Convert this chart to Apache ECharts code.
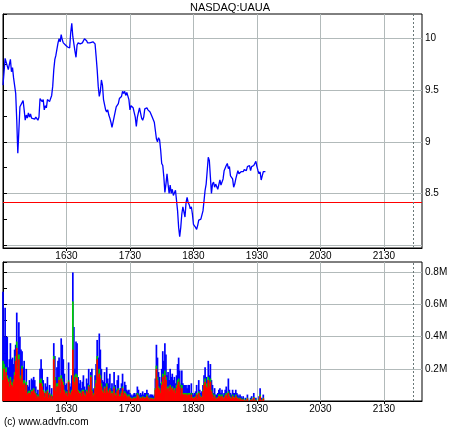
<!DOCTYPE html>
<html><head><meta charset="utf-8">
<script src="https://cdn.jsdelivr.net/npm/echarts@6/dist/echarts.min.js"></script>
<style>html,body{margin:0;padding:0;background:#fff}#c{width:460px;height:430px}</style>
</head><body><div id="c"></div>
<script>
// ---- data ----
const chartTitle = 'NASDAQ:UAUA';
const copyright = '(c) www.advfn.com';
// minutes since 15:30
const priceMinutes = [0,2,3,5,7,8,9,10,12,13,14,15,16,17,19,20,21,22,23,24,25,26,27,28,30,31,33,34,35,37,38,39,40,41,42,44,46,47,48,49,50,52,53,54,55,56,57,59,60,61,63,64,65,66,68,69,70,71,73,75,76,
77,79,80,82,83,85,87,88,89,90,91,92,93,94,95,97,98,99,100,101,102,103,104,105,107,109,110,112,113,114,115,116,117,119,120,121,123,124,125,126,127,129,131,132,133,134,136,137,139,141,142,143,145,146,147,148,149,150,151,152,153,154,155,156,157,
158,159,160,161,163,164,165,166,167,168,169,170,171,172,173,174,175,176,177,178,179,180,182,183,184,185,186,187,189,190,191,192,193,194,195,196,197,198,199,200,201,203,205,206,208,209,211,212,213,214,215,216,217,218,219,220,222,223,225,227,228,230,231,233,234,235,237,238,239,240,241,242,243,244,245,246,248];
const prices = [9.55,9.81,9.82,9.70,9.80,9.68,9.72,9.62,9.47,9.21,8.89,9.11,9.34,9.35,9.40,9.31,9.21,9.26,9.23,9.28,9.24,9.27,9.23,9.24,9.22,9.24,9.21,9.24,9.42,9.39,9.41,9.31,9.35,9.33,9.41,9.39,9.45,9.54,9.70,9.80,9.84,9.96,10.00,9.97,10.04,9.99,9.96,9.94,9.93,9.92,9.91,10.06,10.15,10.02,9.88,9.82,9.94,9.96,9.95,9.96,9.97,
10.00,9.98,9.96,9.96,9.95,9.97,9.95,9.83,9.70,9.54,9.44,9.49,9.60,9.55,9.41,9.31,9.29,9.31,9.26,9.23,9.19,9.14,9.15,9.24,9.34,9.37,9.42,9.44,9.49,9.47,9.49,9.45,9.48,9.41,9.31,9.35,9.33,9.32,9.24,9.15,9.24,9.33,9.23,9.21,9.24,9.32,9.33,9.31,9.29,9.24,9.23,9.19,9.03,9.00,9.04,9.02,8.92,8.79,8.77,8.66,8.51,8.59,8.69,8.59,8.50,
8.58,8.50,8.54,8.48,8.53,8.54,8.33,8.17,8.08,8.17,8.30,8.37,8.32,8.27,8.41,8.46,8.41,8.39,8.35,8.37,8.30,8.20,8.17,8.15,8.19,8.24,8.24,8.25,8.33,8.43,8.53,8.59,8.72,8.85,8.82,8.66,8.50,8.59,8.61,8.56,8.59,8.54,8.63,8.58,8.64,8.72,8.77,8.79,8.74,8.76,8.67,8.66,8.64,8.56,8.59,8.64,8.72,8.69,8.71,8.71,8.73,8.72,8.76,8.77,8.72,8.76,8.77,8.76,8.81,8.76,8.72,8.69,8.71,8.63,8.67,8.71,8.71];
const prevClose = 8.41;
const closeMarkerMinute = 388;
// volume per minute (thousands of shares), minute index from 15:30
const volTotal = [680,400,580,400,400,210,260,360,260,270,230,320,350,550,310,490,400,320,310,210,250,110,200,100,90,130,70,140,130,150,130,90,50,70,40,200,260,200,130,50,110,90,150,50,100,40,80,30,360,280,150,210,250,270,100,390,350,260,170,100,110,70,240,110,90,160,800,460,200,370,360,150,110,130,80,120,160,90,70,140,110,200,100,
180,200,70,80,160,230,380,270,420,320,200,130,120,180,110,210,140,110,170,80,110,70,180,100,70,130,160,70,80,110,170,70,120,100,70,60,70,50,40,30,40,50,40,50,90,70,40,50,40,60,40,50,50,70,50,30,40,40,40,30,40,140,350,270,180,150,110,200,310,250,360,290,160,180,130,200,150,170,130,
150,110,160,230,270,190,100,190,110,100,100,100,80,100,100,50,110,50,40,50,60,100,40,130,70,50,60,100,160,210,150,130,250,160,230,130,100,50,80,40,40,50,70,80,50,70,40,50,70,90,50,140,70,50,40,70,50,50,70,50,40,30,40,30,20,30,0,20,0,40,0,0,20,30,0,50,0,20,0,0,30,80,20,0,40];
const volRed = [130,200,150,180,140,120,90,130,100,90,120,160,250,330,200,260,140,120,200,100,110,60,100,40,50,50,40,60,60,70,50,40,20,30,20,110,110,90,60,25,50,40,60,20,40,15,30,10,260,130,60,90,90,130,50,140,120,100,60,40,50,30,120,50,40,60,320,120,100,150,140,60,50,50,30,60,60,40,30,60,50,90,50,
150,60,30,40,80,110,260,150,170,140,90,60,50,80,50,90,60,50,70,40,50,30,80,40,30,60,70,30,30,50,80,30,50,40,30,20,30,20,15,10,15,20,15,20,40,30,15,20,15,25,15,20,20,30,20,10,15,15,15,10,15,70,200,130,80,70,50,100,150,110,160,130,70,80,60,90,70,80,60,
70,50,80,100,120,90,40,80,40,40,40,40,30,40,40,20,40,20,15,20,25,40,15,50,30,20,25,60,100,120,90,80,130,90,120,60,40,20,30,15,15,20,30,30,20,30,15,20,30,40,20,50,30,20,15,30,20,20,30,20,15,10,15,10,5,10,0,5,0,15,0,0,5,10,0,20,0,5,0,0,10,30,5,0,15];
const volGreen = [120,30,50,30,20,20,20,20,20,20,15,20,30,40,20,30,20,30,20,20,20,10,20,10,10,15,10,10,10,10,10,10,5,10,5,20,30,20,10,5,10,10,10,5,10,5,10,5,20,20,10,20,20,20,10,20,20,20,10,10,10,10,10,10,10,10,300,40,20,20,20,10,10,10,10,10,10,10,10,10,10,10,10,
10,10,10,10,10,20,20,20,30,20,20,10,10,10,10,20,10,10,10,10,10,10,10,10,10,10,10,10,10,10,10,10,10,10,10,10,10,5,5,5,5,5,5,10,10,10,5,5,5,5,5,5,5,10,5,5,5,5,5,5,5,10,20,20,10,10,10,20,20,20,30,20,10,10,10,10,10,10,10,
10,10,20,30,20,20,10,20,10,10,10,10,10,10,10,5,10,5,5,5,5,10,5,10,10,5,5,10,10,20,20,10,20,20,20,10,10,5,10,5,5,5,10,10,5,10,5,5,10,10,5,10,10,5,5,10,5,5,10,5,5,5,5,5,5,5,0,5,0,5,0,0,5,5,0,5,0,5,0,0,5,10,5,0,5];
const xTickLabels = ['1630','1730','1830','1930','2030','2130'];
const priceTickLabels = ['8.5','9','9.5','10'];
const volTickLabels = ['0.2M','0.4M','0.6M','0.8M'];

// ---- chart ----
const FF = '"Liberation Sans", Arial, sans-serif';
const gridColor = '#b2baba';
const fmtX = v => (v > 0 && v % 60 === 0) ? (xTickLabels[v / 60 - 1] || '') : '';
function xAxis(gi) {
  return {
    type: 'value', gridIndex: gi, min: 0, max: 396, interval: 60,
    axisLine: {show: true, onZero: false, lineStyle: {color: '#000'}},
    axisTick: {show: true, length: 3, lineStyle: {color: '#000'}},
    axisLabel: {color: '#000', fontSize: 10, fontFamily: FF, margin: 3, showMinLabel: false, showMaxLabel: false, formatter: fmtX},
    splitLine: {show: true, showMinLine: false, showMaxLine: false, lineStyle: {color: gridColor, width: 1}}
  };
}
// stacked look: draw cumulative levels from the same base, top segment first
const cumGreen = volRed.map((r, i) => r + volGreen[i]);
function volBar(values, color, extra) {
  return Object.assign({type: 'bar', xAxisIndex: 1, yAxisIndex: 1, barWidth: 1.7, barGap: '-100%',
    itemStyle: {color: color}, data: values.map((v, i) => [i, v * 1000])}, extra || {});
}
const option = {
  animation: false,
  backgroundColor: '#fff',
  title: {text: chartTitle, left: 'center', top: 2, padding: 0, textStyle: {fontSize: 11, fontWeight: 'normal', color: '#000', fontFamily: FF}},
  graphic: [{type: 'text', left: 4, top: 417, style: {text: copyright, fontSize: 10, fontFamily: FF, fill: '#000'}}],
  grid: [
    {left: 3, top: 14, width: 419, height: 234, show: true, borderColor: '#000', borderWidth: 1},
    {left: 3, top: 262, width: 419, height: 139, show: true, borderColor: '#000', borderWidth: 1}
  ],
  xAxis: [xAxis(0), xAxis(1)],
  yAxis: [
    {type: 'value', gridIndex: 0, position: 'right', min: 7.97, max: 10.24, minInterval: 0.5, maxInterval: 0.5, splitNumber: 5,
     axisLine: {show: true, lineStyle: {color: '#000'}},
     axisTick: {show: true, length: 4, lineStyle: {color: '#000'}},
     minorTick: {show: true, splitNumber: 2, length: 4, lineStyle: {color: '#000'}},
     axisLabel: {color: '#000', fontSize: 10, fontFamily: FF, margin: 3, showMinLabel: false, showMaxLabel: false,
       formatter: v => priceTickLabels.includes(String(v)) ? String(v) : ''},
     splitLine: {show: true, showMinLine: false, showMaxLine: false, lineStyle: {color: gridColor, width: 1}}},
    {type: 'value', gridIndex: 1, position: 'right', min: 0, max: 865000, interval: 200000,
     axisLine: {show: true, lineStyle: {color: '#000'}},
     axisTick: {show: true, length: 4, lineStyle: {color: '#000'}},
     minorTick: {show: true, splitNumber: 2, length: 4, lineStyle: {color: '#000'}},
     axisLabel: {color: '#000', fontSize: 10, fontFamily: FF, margin: 3, showMinLabel: false, showMaxLabel: false,
       formatter: v => (v > 0 && v % 200000 === 0) ? (volTickLabels[v / 200000 - 1] || '') : ''},
     splitLine: {show: true, showMinLine: false, showMaxLine: false, lineStyle: {color: gridColor, width: 1}}}
  ],
  series: [
    {type: 'line', xAxisIndex: 0, yAxisIndex: 0, showSymbol: false, symbol: 'none',
     data: priceMinutes.map((t, i) => [t, prices[i]]),
     lineStyle: {color: '#0000ff', width: 1.3},
     markLine: {silent: true, symbol: ['none', 'none'], label: {show: false},
       data: [
         {yAxis: prevClose, lineStyle: {color: '#ff0000', width: 1, type: 'solid'}},
         {xAxis: closeMarkerMinute, lineStyle: {color: '#6a7878', width: 1, type: [2, 2]}}
       ]}},
    volBar(volTotal, '#0000ff', {markLine: {silent: true, symbol: ['none', 'none'], label: {show: false},
       data: [{xAxis: closeMarkerMinute, lineStyle: {color: '#6a7878', width: 1, type: [2, 2]}}]}}),
    volBar(cumGreen, '#00cc00'),
    volBar(volRed, '#ff0000')
  ]
};
const chart = echarts.init(document.getElementById('c'), null, {renderer: 'canvas'});
chart.setOption(option);
</script></body></html>
